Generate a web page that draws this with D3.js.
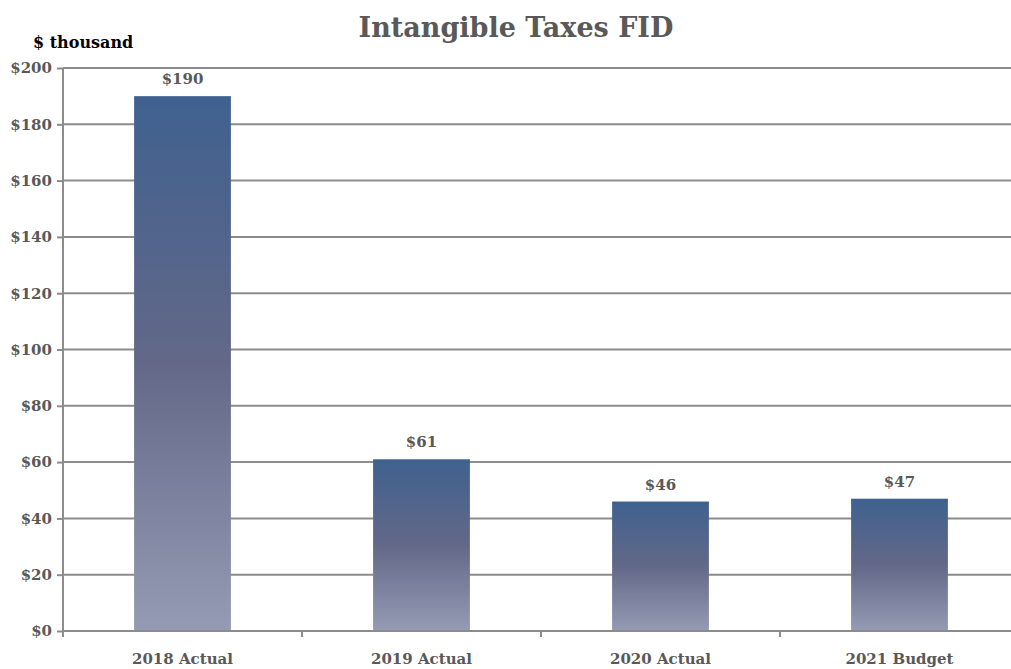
<!DOCTYPE html>
<html><head><meta charset="utf-8">
<script src="https://cdn.jsdelivr.net/npm/d3@7"></script>
<style>html,body{margin:0;padding:0;background:#fff;} svg{display:block;}</style>
</head><body>
<svg id="c" width="1011" height="669"></svg>
<script>
const categories = ["2018 Actual", "2019 Actual", "2020 Actual", "2021 Budget"];
const values = [190, 61, 46, 47];
const valueLabels = ["$190", "$61", "$46", "$47"];
const yTicks = [0, 20, 40, 60, 80, 100, 120, 140, 160, 180, 200];
const title = "Intangible Taxes FID";
const unitLabel = "$ thousand";

(function () {
const svg = d3.select("#c");
const W = 1011, H = 669;
const font = "'DejaVu Serif', 'Liberation Serif', serif";
const gray = "#595959";
const mL = 63, mR = 1019, mT = 68, mB = 631;

const x = d3.scaleBand().domain(categories).range([mL, mR]).paddingInner(0).paddingOuter(0);
const y = d3.scaleLinear().domain([0, 200]).range([mB, mT]);

const defs = svg.append("defs");
const grad = defs.append("linearGradient").attr("id", "barGrad").attr("x1", 0).attr("y1", 0).attr("x2", 0).attr("y2", 1);
grad.append("stop").attr("offset", "0%").attr("stop-color", "#3f618f");
grad.append("stop").attr("offset", "50%").attr("stop-color", "#636888");
grad.append("stop").attr("offset", "100%").attr("stop-color", "#959bb4");

// gridlines
svg.append("g").selectAll("line").data(yTicks.filter(d => d > 0)).join("line")
  .attr("x1", mL).attr("x2", W).attr("y1", d => y(d)).attr("y2", d => y(d))
  .attr("stroke", "#8c8c8c").attr("stroke-width", 2);

// bars
const bw = x.bandwidth() * 0.405;
svg.append("g").selectAll("rect").data(values).join("rect")
  .attr("x", (d, i) => x(categories[i]) + x.bandwidth() / 2 - bw / 2)
  .attr("width", bw)
  .attr("y", d => y(d))
  .attr("height", d => y(0) - y(d))
  .attr("fill", "url(#barGrad)");

// y axis
const yAxis = d3.axisLeft(y).tickValues(yTicks).tickSize(6).tickPadding(5).tickFormat(d => "$" + d);
const ya = svg.append("g").attr("transform", `translate(${mL},0)`).call(yAxis);
ya.select(".domain").attr("stroke", "#8c8c8c").attr("stroke-width", 2).attr("d", `M0,${mT}V${mB}`);
ya.selectAll(".tick line").attr("stroke", "#8c8c8c").attr("stroke-width", 2);
ya.selectAll(".tick text").attr("fill", gray).attr("font-family", font).attr("font-weight", "bold").attr("font-size", 15);

// x axis
const xa = svg.append("g").attr("transform", `translate(0,${mB})`);
xa.append("line").attr("x1", mL).attr("x2", W).attr("y1", 0).attr("y2", 0).attr("stroke", "#8c8c8c").attr("stroke-width", 2);
const bounds = categories.map(c => x(c));
xa.selectAll("line.t").data(bounds).join("line").attr("class", "t")
  .attr("x1", d => d).attr("x2", d => d).attr("y1", 0).attr("y2", 6)
  .attr("stroke", "#8c8c8c").attr("stroke-width", 2);
xa.selectAll("text").data(categories).join("text")
  .attr("x", d => x(d) + x.bandwidth() / 2).attr("y", 33)
  .attr("text-anchor", "middle").attr("fill", gray)
  .attr("font-family", font).attr("font-weight", "bold").attr("font-size", 15)
  .text(d => d);

// value labels
svg.append("g").selectAll("text").data(values).join("text")
  .attr("x", (d, i) => x(categories[i]) + x.bandwidth() / 2)
  .attr("y", d => y(d) - 12)
  .attr("text-anchor", "middle").attr("fill", gray)
  .attr("font-family", font).attr("font-weight", "bold").attr("font-size", 15)
  .text((d, i) => valueLabels[i]);

// title
svg.append("text").attr("x", 516).attr("y", 37).attr("text-anchor", "middle")
  .attr("fill", gray).attr("font-family", font).attr("font-weight", "bold").attr("font-size", 27)
  .text(title);

svg.append("text").attr("x", 33).attr("y", 48)
  .attr("fill", "#000").attr("font-family", font).attr("font-weight", "bold").attr("font-size", 16)
  .text(unitLabel);
})();
</script>
</body></html>
